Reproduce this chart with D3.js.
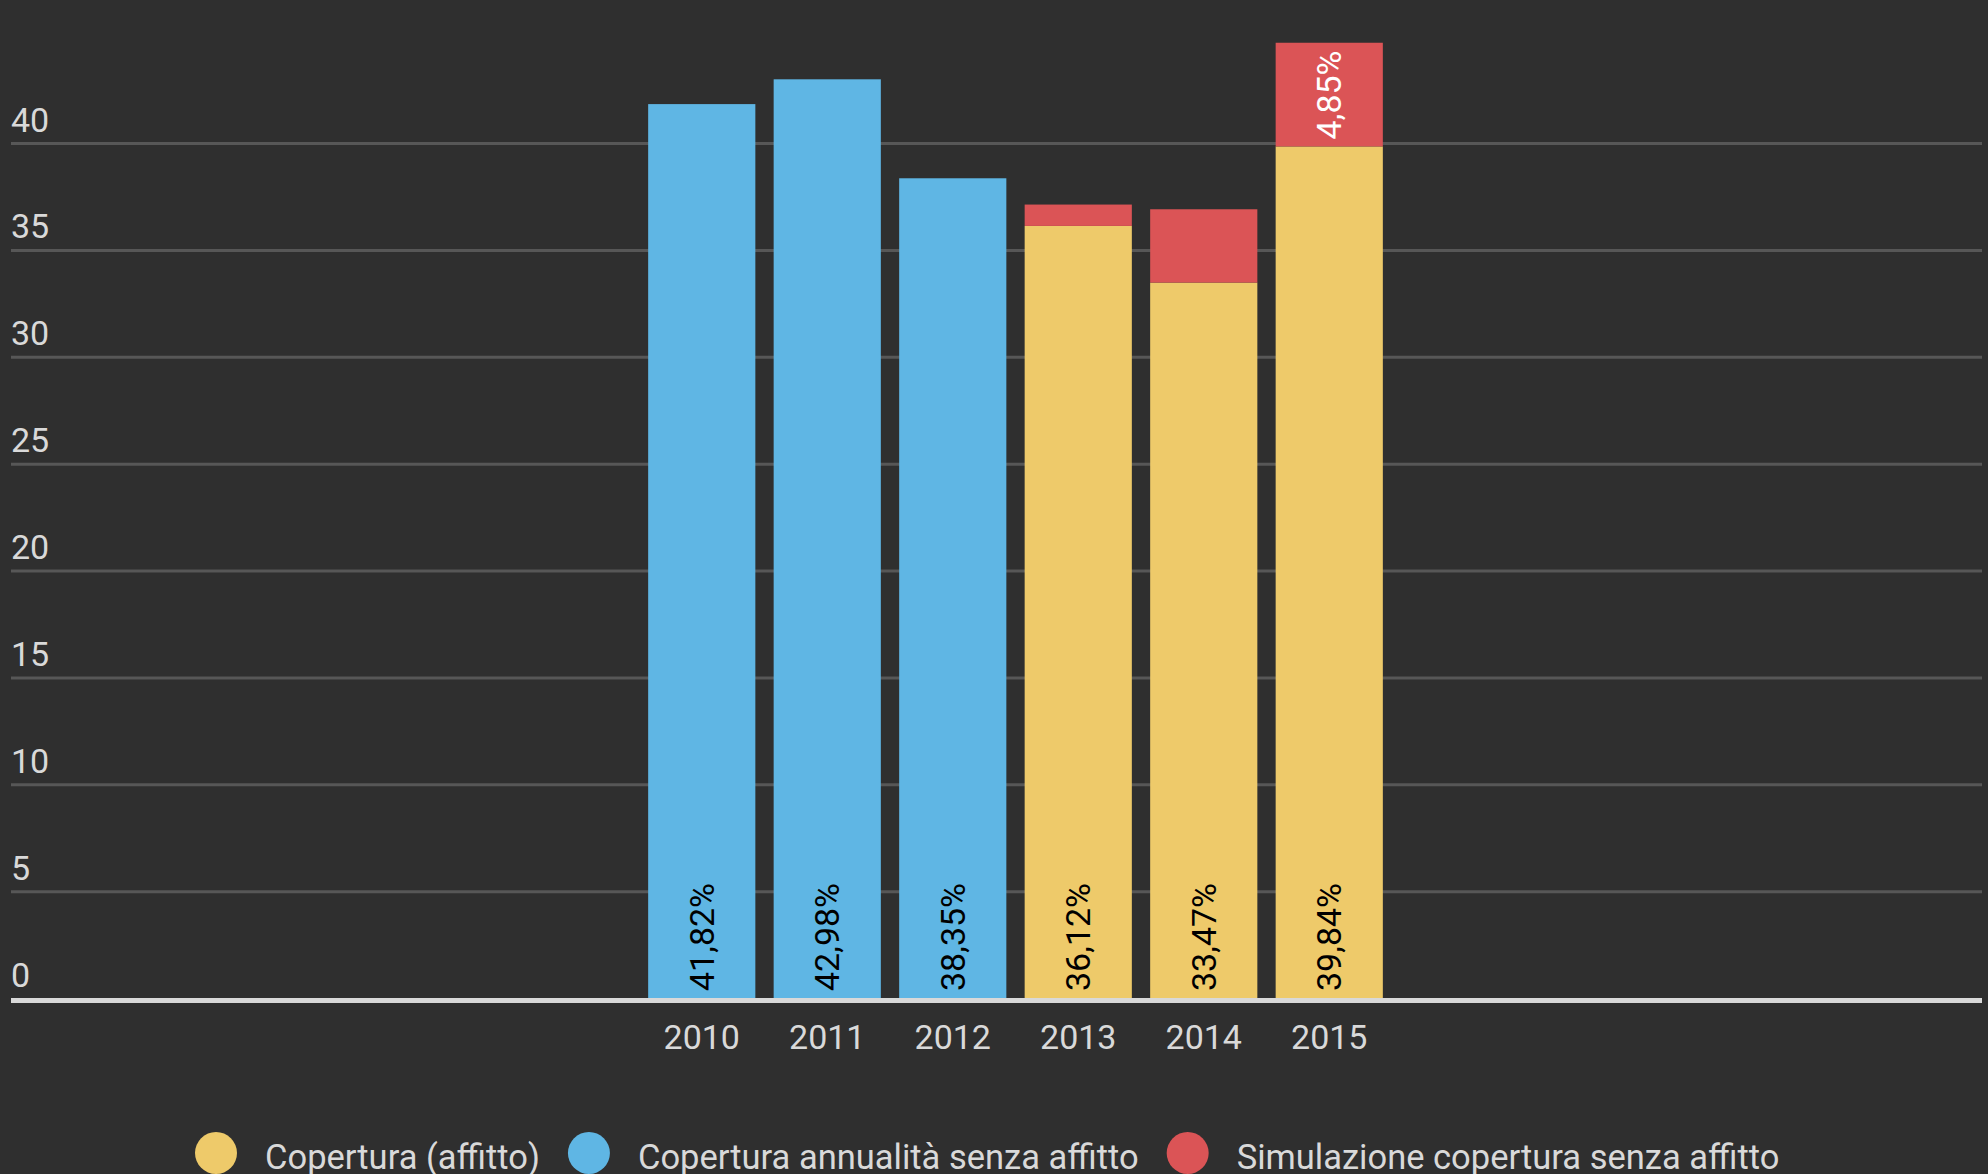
<!DOCTYPE html>
<html>
<head>
<meta charset="utf-8">
<script src="https://cdn.jsdelivr.net/npm/d3@7"></script>
<style>
  body { margin: 0; background: #2f2f2f; }
  svg { display: block; font-family: Roboto, "Noto Sans", sans-serif; }
</style>
</head>
<body>
<div id="chart"></div>
<script>
// Chart values
var years = ["2010", "2011", "2012", "2013", "2014", "2015"];
var coperturaAffitto = [0, 0, 0, 36.12, 33.47, 39.84];
var coperturaSenzaAffitto = [41.82, 42.98, 38.35, 0, 0, 0];
var simulazioneSenzaAffitto = [0, 0, 0, 1.00, 3.43, 4.85];
var seriesNames = ["Copertura (affitto)", "Copertura annualità senza affitto", "Simulazione copertura senza affitto"];
var yTicks = [0, 5, 10, 15, 20, 25, 30, 35, 40];

var width = 1988, height = 1174;
var colors = ["#eeca6a", "#5fb6e4", "#db5456"];
var labelColors = ["#000", "#000", "#fff"];
var textColor = "#d9d9d9";

var keys = ["affitto", "senza", "sim"];
var rows = years.map(function(yr, i) {
    return { year: yr, affitto: coperturaAffitto[i], senza: coperturaSenzaAffitto[i], sim: simulazioneSenzaAffitto[i] };
});

var svg = d3.select("#chart").append("svg")
    .attr("width", width)
    .attr("height", height);

svg.append("rect").attr("width", width).attr("height", height).attr("fill", "#2f2f2f");

var left = 11, right = 1982;

var x = d3.scaleBand()
    .domain(years)
    .range([639, 1392])
    .paddingInner(0.146)
    .paddingOuter(0.073);

var y = d3.scaleLinear()
    .domain([0, 40])
    .range([998, 143]);

// y axis drawn as gridlines with labels sitting above each line
var yAxis = svg.append("g")
    .attr("transform", "translate(" + left + ",0)")
    .call(d3.axisLeft(y).tickValues(yTicks).tickSize(-(right - left)).tickPadding(0));

yAxis.select(".domain").remove();
yAxis.selectAll(".tick line")
    .attr("stroke", "#575757")
    .attr("stroke-width", 3);
yAxis.selectAll(".tick")
    .filter(function(d) { return d === 0; })
    .select("line")
    .attr("stroke", "#d9d9d9")
    .attr("stroke-width", 5)
    .attr("y1", 2).attr("y2", 2);
yAxis.selectAll(".tick text")
    .attr("x", 0)
    .attr("dy", -12)
    .attr("text-anchor", "start")
    .attr("fill", textColor)
    .style("font-family", "Roboto, sans-serif")
    .style("font-size", "34px");

// stacked bars (drawn over the gridlines)
var stacked = d3.stack().keys(keys)(rows);

var layers = svg.append("g")
    .selectAll("g")
    .data(stacked)
    .enter().append("g")
    .attr("fill", function(d, i) { return colors[i]; });

layers.selectAll("rect")
    .data(function(d) { return d.filter(function(s) { return s[1] - s[0] > 0; }); })
    .enter().append("rect")
    .attr("x", function(d) { return x(d.data.year); })
    .attr("width", x.bandwidth())
    .attr("y", function(d) { return y(d[1]); })
    .attr("height", function(d) { return y(d[0]) - y(d[1]); });

// segment value labels (rotated), shown only when they fit
var fmt = d3.formatLocale({ decimal: ",", thousands: ".", grouping: [3] }).format(".2f");

stacked.forEach(function(layer, li) {
    layer.forEach(function(d) {
        var v = d[1] - d[0];
        if (v <= 0) return;
        var cx = x(d.data.year) + x.bandwidth() / 2;
        var yb = y(d[0]) - 7;
        var t = svg.append("text")
            .attr("transform", "translate(" + (cx + 12) + "," + yb + ") rotate(-90)")
            .attr("fill", labelColors[li])
            .style("font-size", "34px")
            .text(fmt(v) + "%");
        var segH = y(d[0]) - y(d[1]);
        if (t.node().getComputedTextLength() + 10 > segH) t.remove();
    });
});

// x axis labels
var xAxis = svg.append("g")
    .attr("transform", "translate(0,998)")
    .call(d3.axisBottom(x).tickSize(0).tickPadding(0));
xAxis.select(".domain").remove();
xAxis.selectAll(".tick text")
    .attr("y", 51)
    .attr("dy", 0)
    .attr("fill", textColor)
    .style("font-family", "Roboto, sans-serif")
    .style("font-size", "34px");

// legend (runs off the bottom edge, as in the original)
var legend = svg.append("g").attr("transform", "translate(195,1153)");
var pos = 0;
seriesNames.forEach(function(name, i) {
    var item = legend.append("g").attr("transform", "translate(" + pos + ",0)");
    item.append("circle").attr("cx", 21).attr("cy", 0).attr("r", 21).attr("fill", colors[i]);
    var t = item.append("text")
        .attr("x", 70)
        .attr("y", 16)
        .attr("fill", textColor)
        .style("font-size", "34.5px")
        .text(name);
    pos += 70 + t.node().getComputedTextLength() + 28;
});
</script>
</body>
</html>
